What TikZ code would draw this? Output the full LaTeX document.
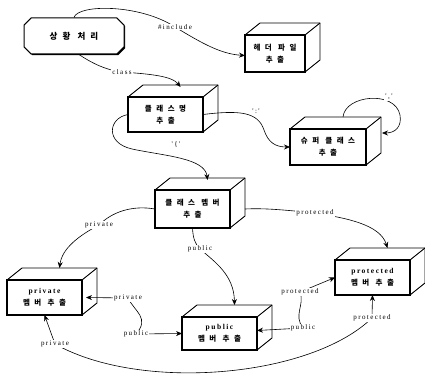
\documentclass[tikz,border=0pt]{standalone}
\usepackage{fontspec}
\setmainfont{Liberation Serif}
\newfontfamily\kr{Noto Sans CJK KR}[LetterSpace=60]
\newfontfamily\lt{Liberation Serif}[LetterSpace=20]
\usetikzlibrary{arrows.meta,shapes.misc,shadows}
\tikzset{
  front/.style={draw, line width=1.1pt, fill=white, align=center, inner sep=1pt, outer sep=0pt,
    anchor=north west, font=\fontsize{7.5}{12}\selectfont\bfseries},
  face/.style={line width=0.9pt, line join=round},
  edge/.style={line width=0.6pt, -{Stealth[length=6pt,width=5pt]}},
  edgeb/.style={line width=0.6pt, {Stealth[length=6pt,width=5pt]}-{Stealth[length=6pt,width=5pt]}},
  lbl/.style={fill=white, inner sep=1pt, font=\lt\fontsize{7}{8}\selectfont},
  startnode/.style={chamfered rectangle, chamfered rectangle xsep=10pt, draw, line width=1pt,
    fill=white, minimum width=100pt, minimum height=36pt, inner sep=0pt,
    drop shadow={shadow xshift=1.2pt, shadow yshift=-1.2pt, fill=black, opacity=1},
    font=\fontsize{8.5}{10}\selectfont\bfseries}
}
\newcommand\mycube[6]{%
  \node[front, minimum width=#4pt, minimum height=#5pt] (#1) at (#2,#3) {#6};
  \draw[face] (#1.north west) -- ++(15,-12) -- ++(#4,0) -- ([shift={(15pt,12pt)}]#1.south east) -- (#1.south east);
  \draw[face] (#1.north east) -- ++(15,-12);
}
\begin{document}
\begin{tikzpicture}[x=1pt,y=-1pt]
\useasboundingbox (0,0) rectangle (425,374);

\node[startnode] (start) at (74,36) {{\kr 상황 처리}};

\mycube{hdr}{245}{35}{60}{37}{{\kr 헤더 파일}\\{\kr 추출}}
\mycube{cls}{128}{97}{75}{35}{{\kr 클래스명}\\{\kr 추출}}
\mycube{sup}{290}{129}{76}{36}{{\kr 슈퍼 클래스}\\{\kr 추출}}
\mycube{mem}{155}{190}{75}{38}{{\kr 클래스 멤버}\\{\kr 추출}}
\mycube{priv}{7}{280}{75}{35}{{\lt private}\\{\kr 멤버 추출}}
\mycube{pub}{182}{317}{75}{33}{{\lt public}\\{\kr 멤버 추출}}
\mycube{prot}{335}{260}{75}{35}{{\lt protected}\\{\kr 멤버 추출}}

% start -> header
\draw[edge] (start.north) .. controls (78,4) and (140,4) .. (175,27) node[lbl]{\#include}
  .. controls (200,42) and (220,54) .. ([yshift=-2pt]hdr.west);
% start -> class name
\draw[edge] ([xshift=5pt]start.south) .. controls (90,62) and (105,70) .. (122,72) node[lbl]{class}
  .. controls (150,74) and (172,76) .. ([shift={(15pt,10pt)}]cls.north);
% class name -> super
\draw[edge] (cls.east) .. controls (240,110) and (258,112) .. (264,130)
  .. controls (268,142) and (275,147) .. (sup.west);
\node[lbl] (lcolon) at (256,111) {':'};
% super self loop
\draw[edge] ([shift={(15pt,12pt)}]sup.north) .. controls (345,95) and (395,90) .. (400,115)
  .. controls (402,127) and (395,133) .. ([shift={(16pt,14pt)}]sup.east);
\node[lbl] (lcomma) at (389,97) {','};
% class name -> member
\draw[edge] (cls.west) .. controls (108,118) and (105,143) .. (132,149)
  .. controls (165,156) and (205,158) .. ([shift={(15pt,10pt)}]mem.north);
\node[lbl] (lbrace) at (176,145) {'\{'};
% member -> private
\draw[edge] (mem.west) .. controls (132,205) and (112,212) .. (99,225) node[lbl]{private}
  .. controls (80,235) and (62,248) .. ([shift={(15pt,12pt)}]priv.north);
% member -> public
\draw[edge] (mem.south) .. controls (193,238) and (195,244) .. (200,249) node[lbl]{public}
  .. controls (215,262) and (234,275) .. ([shift={(15pt,12pt)}]pub.north);
% member -> protected
\draw[edge] ([xshift=15pt]mem.east) .. controls (265,208) and (285,210) .. (315,213) node[lbl]{protected}
  .. controls (345,218) and (380,224) .. ([shift={(15pt,12pt)}]prot.north);
% private <-> public
\draw[edgeb] ([xshift=4pt]priv.east) -- (128,298) node[lbl]{private}
  .. controls (135,312) and (150,318) .. (136,334) node[lbl]{public} -- (pub.west);
% public <-> protected
\draw[edgeb] ([yshift=3pt]pub.east) -- (303,328) node[lbl]{public}
  .. controls (293,315) and (305,305) .. (300,292) node[lbl]{protected} -- (prot.west);
% private <-> protected
\draw[edgeb] (priv.south) -- (55,344) node[lbl]{private}
  .. controls (140,392) and (310,378) .. (372,318) node[lbl]{protected} -- (prot.south);
\end{tikzpicture}
\end{document}
